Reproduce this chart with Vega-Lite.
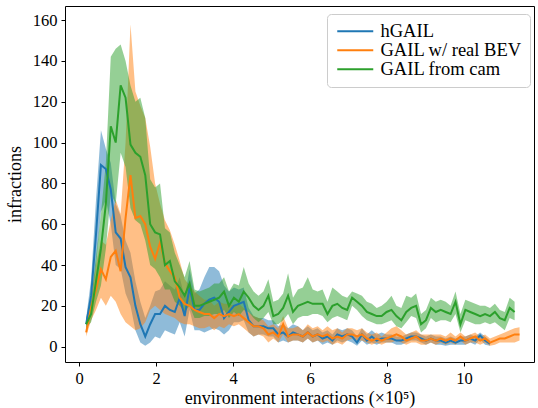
{
"$schema": "https://vega.github.io/schema/vega-lite/v6.json",
"width": 469, "height": 356,
"autosize": {"type": "none"},
"padding": {"left": 65, "top": 6, "right": 4, "bottom": 46},
"config": {
  "font": "Liberation Serif",
  "view": {"stroke": "black", "strokeWidth": 1},
  "axis": {"grid": false, "domain": false, "tickColor": "black", "tickSize": 4, "tickWidth": 1, "labelColor": "black", "labelFontSize": 16.5, "labelFont": "Liberation Serif", "titleFont": "Liberation Serif", "titleFontSize": 18, "titleFontWeight": "normal", "titleColor": "black"}
},
"data": {"values": [
{"s":"hGAIL","x":0.18,"m":11,"lo":8,"hi":14},
{"s":"hGAIL","x":0.308,"m":25,"lo":18,"hi":33},
{"s":"hGAIL","x":0.436,"m":55,"lo":40,"hi":72},
{"s":"hGAIL","x":0.564,"m":89,"lo":66,"hi":106},
{"s":"hGAIL","x":0.692,"m":87,"lo":72,"hi":97},
{"s":"hGAIL","x":0.82,"m":77,"lo":60,"hi":90},
{"s":"hGAIL","x":0.948,"m":56,"lo":40,"hi":70},
{"s":"hGAIL","x":1.076,"m":53,"lo":38,"hi":64},
{"s":"hGAIL","x":1.204,"m":39,"lo":26,"hi":52},
{"s":"hGAIL","x":1.332,"m":34,"lo":20,"hi":46},
{"s":"hGAIL","x":1.46,"m":20,"lo":8,"hi":32},
{"s":"hGAIL","x":1.588,"m":11,"lo":2,"hi":22},
{"s":"hGAIL","x":1.716,"m":5,"lo":0.5,"hi":14},
{"s":"hGAIL","x":1.844,"m":11,"lo":2,"hi":20},
{"s":"hGAIL","x":1.972,"m":16,"lo":5,"hi":27},
{"s":"hGAIL","x":2.1,"m":16,"lo":4,"hi":28},
{"s":"hGAIL","x":2.228,"m":20,"lo":8,"hi":32},
{"s":"hGAIL","x":2.356,"m":18,"lo":7,"hi":30},
{"s":"hGAIL","x":2.484,"m":17,"lo":6,"hi":28},
{"s":"hGAIL","x":2.612,"m":24,"lo":12,"hi":34},
{"s":"hGAIL","x":2.74,"m":15,"lo":5,"hi":24},
{"s":"hGAIL","x":2.868,"m":29,"lo":18,"hi":38},
{"s":"hGAIL","x":2.996,"m":18,"lo":8,"hi":26},
{"s":"hGAIL","x":3.124,"m":18,"lo":8,"hi":28},
{"s":"hGAIL","x":3.252,"m":21,"lo":7,"hi":34},
{"s":"hGAIL","x":3.38,"m":23,"lo":8,"hi":39},
{"s":"hGAIL","x":3.508,"m":24,"lo":9,"hi":39},
{"s":"hGAIL","x":3.636,"m":22,"lo":8,"hi":37},
{"s":"hGAIL","x":3.764,"m":14,"lo":6,"hi":30},
{"s":"hGAIL","x":3.892,"m":17,"lo":8,"hi":27},
{"s":"hGAIL","x":4.02,"m":20,"lo":12,"hi":29},
{"s":"hGAIL","x":4.148,"m":21,"lo":12,"hi":28},
{"s":"hGAIL","x":4.276,"m":22,"lo":13,"hi":29},
{"s":"hGAIL","x":4.404,"m":13,"lo":7,"hi":19},
{"s":"hGAIL","x":4.532,"m":10,"lo":5,"hi":15},
{"s":"hGAIL","x":4.66,"m":10,"lo":6,"hi":14},
{"s":"hGAIL","x":4.788,"m":10,"lo":6,"hi":14},
{"s":"hGAIL","x":4.916,"m":9,"lo":5,"hi":13},
{"s":"hGAIL","x":5.044,"m":9,"lo":5,"hi":13},
{"s":"hGAIL","x":5.172,"m":6,"lo":2,"hi":10},
{"s":"hGAIL","x":5.3,"m":7,"lo":3,"hi":11},
{"s":"hGAIL","x":5.428,"m":5,"lo":2,"hi":9},
{"s":"hGAIL","x":5.556,"m":7,"lo":3,"hi":11},
{"s":"hGAIL","x":5.684,"m":6,"lo":3,"hi":10},
{"s":"hGAIL","x":5.812,"m":5,"lo":2,"hi":8},
{"s":"hGAIL","x":5.94,"m":7,"lo":4,"hi":10},
{"s":"hGAIL","x":6.068,"m":5,"lo":2,"hi":8},
{"s":"hGAIL","x":6.196,"m":6,"lo":3,"hi":9},
{"s":"hGAIL","x":6.324,"m":4,"lo":1,"hi":7},
{"s":"hGAIL","x":6.452,"m":5,"lo":2,"hi":8},
{"s":"hGAIL","x":6.58,"m":3,"lo":1,"hi":6},
{"s":"hGAIL","x":6.708,"m":6,"lo":3,"hi":9},
{"s":"hGAIL","x":6.836,"m":5,"lo":2,"hi":8},
{"s":"hGAIL","x":6.964,"m":6,"lo":3,"hi":9},
{"s":"hGAIL","x":7.092,"m":5,"lo":2,"hi":8},
{"s":"hGAIL","x":7.22,"m":2,"lo":0.5,"hi":5},
{"s":"hGAIL","x":7.348,"m":6,"lo":3,"hi":9},
{"s":"hGAIL","x":7.476,"m":3,"lo":1,"hi":6},
{"s":"hGAIL","x":7.604,"m":5,"lo":2,"hi":8},
{"s":"hGAIL","x":7.732,"m":3,"lo":1,"hi":6},
{"s":"hGAIL","x":7.86,"m":4,"lo":2,"hi":7},
{"s":"hGAIL","x":7.988,"m":4,"lo":2,"hi":6},
{"s":"hGAIL","x":8.116,"m":4,"lo":2,"hi":6},
{"s":"hGAIL","x":8.244,"m":3,"lo":1,"hi":5},
{"s":"hGAIL","x":8.372,"m":3,"lo":1,"hi":5},
{"s":"hGAIL","x":8.5,"m":4,"lo":2,"hi":6},
{"s":"hGAIL","x":8.628,"m":5,"lo":3,"hi":7},
{"s":"hGAIL","x":8.756,"m":5,"lo":3,"hi":7},
{"s":"hGAIL","x":8.884,"m":4,"lo":2,"hi":6},
{"s":"hGAIL","x":9.012,"m":3,"lo":1,"hi":5},
{"s":"hGAIL","x":9.14,"m":4,"lo":2,"hi":6},
{"s":"hGAIL","x":9.268,"m":3,"lo":1,"hi":5},
{"s":"hGAIL","x":9.396,"m":3,"lo":1,"hi":5},
{"s":"hGAIL","x":9.524,"m":2,"lo":0.5,"hi":4},
{"s":"hGAIL","x":9.652,"m":3,"lo":1,"hi":5},
{"s":"hGAIL","x":9.78,"m":2,"lo":1,"hi":4},
{"s":"hGAIL","x":9.908,"m":3,"lo":1,"hi":5},
{"s":"hGAIL","x":10.036,"m":3,"lo":1,"hi":5},
{"s":"hGAIL","x":10.164,"m":4,"lo":2,"hi":6},
{"s":"hGAIL","x":10.292,"m":3,"lo":1,"hi":5},
{"s":"hGAIL","x":10.42,"m":5.5,"lo":3.5,"hi":7},
{"s":"hGAIL","x":10.548,"m":3,"lo":1,"hi":5},
{"s":"hGAIL","x":10.676,"m":1.5,"lo":0.5,"hi":3},
{"s":"GAIL w/ real BEV","x":0.18,"m":7,"lo":5,"hi":9},
{"s":"GAIL w/ real BEV","x":0.308,"m":19,"lo":13,"hi":25},
{"s":"GAIL w/ real BEV","x":0.436,"m":28,"lo":18,"hi":40},
{"s":"GAIL w/ real BEV","x":0.564,"m":38,"lo":24,"hi":52},
{"s":"GAIL w/ real BEV","x":0.692,"m":33,"lo":20,"hi":50},
{"s":"GAIL w/ real BEV","x":0.82,"m":44,"lo":25,"hi":62},
{"s":"GAIL w/ real BEV","x":0.948,"m":47,"lo":22,"hi":72},
{"s":"GAIL w/ real BEV","x":1.076,"m":37,"lo":16,"hi":65},
{"s":"GAIL w/ real BEV","x":1.204,"m":63,"lo":12,"hi":100},
{"s":"GAIL w/ real BEV","x":1.332,"m":84,"lo":10,"hi":158},
{"s":"GAIL w/ real BEV","x":1.46,"m":63,"lo":8,"hi":125},
{"s":"GAIL w/ real BEV","x":1.588,"m":64,"lo":9,"hi":118},
{"s":"GAIL w/ real BEV","x":1.716,"m":60,"lo":12,"hi":112},
{"s":"GAIL w/ real BEV","x":1.844,"m":49,"lo":18,"hi":98},
{"s":"GAIL w/ real BEV","x":1.972,"m":43,"lo":20,"hi":80},
{"s":"GAIL w/ real BEV","x":2.1,"m":51,"lo":18,"hi":70},
{"s":"GAIL w/ real BEV","x":2.228,"m":41,"lo":16,"hi":62},
{"s":"GAIL w/ real BEV","x":2.356,"m":37,"lo":15,"hi":57},
{"s":"GAIL w/ real BEV","x":2.484,"m":34,"lo":14,"hi":50},
{"s":"GAIL w/ real BEV","x":2.612,"m":24,"lo":12,"hi":42},
{"s":"GAIL w/ real BEV","x":2.74,"m":21,"lo":11,"hi":33},
{"s":"GAIL w/ real BEV","x":2.868,"m":20,"lo":11,"hi":30},
{"s":"GAIL w/ real BEV","x":2.996,"m":18,"lo":10,"hi":27},
{"s":"GAIL w/ real BEV","x":3.124,"m":17,"lo":9,"hi":25},
{"s":"GAIL w/ real BEV","x":3.252,"m":16,"lo":9,"hi":23},
{"s":"GAIL w/ real BEV","x":3.38,"m":16,"lo":10,"hi":23},
{"s":"GAIL w/ real BEV","x":3.508,"m":14,"lo":8,"hi":20},
{"s":"GAIL w/ real BEV","x":3.636,"m":16,"lo":10,"hi":22},
{"s":"GAIL w/ real BEV","x":3.764,"m":15,"lo":9,"hi":21},
{"s":"GAIL w/ real BEV","x":3.892,"m":16,"lo":11,"hi":21},
{"s":"GAIL w/ real BEV","x":4.02,"m":15,"lo":10,"hi":20},
{"s":"GAIL w/ real BEV","x":4.148,"m":16,"lo":11,"hi":21},
{"s":"GAIL w/ real BEV","x":4.276,"m":14,"lo":9,"hi":19},
{"s":"GAIL w/ real BEV","x":4.404,"m":12,"lo":7,"hi":17},
{"s":"GAIL w/ real BEV","x":4.532,"m":10,"lo":5,"hi":15},
{"s":"GAIL w/ real BEV","x":4.66,"m":10,"lo":6,"hi":14},
{"s":"GAIL w/ real BEV","x":4.788,"m":9,"lo":5,"hi":13},
{"s":"GAIL w/ real BEV","x":4.916,"m":6,"lo":2,"hi":10},
{"s":"GAIL w/ real BEV","x":5.044,"m":7,"lo":4,"hi":11},
{"s":"GAIL w/ real BEV","x":5.172,"m":5,"lo":2,"hi":9},
{"s":"GAIL w/ real BEV","x":5.3,"m":11,"lo":6,"hi":15},
{"s":"GAIL w/ real BEV","x":5.428,"m":5,"lo":2,"hi":9},
{"s":"GAIL w/ real BEV","x":5.556,"m":6,"lo":3,"hi":9},
{"s":"GAIL w/ real BEV","x":5.684,"m":6,"lo":3,"hi":10},
{"s":"GAIL w/ real BEV","x":5.812,"m":5,"lo":2,"hi":8},
{"s":"GAIL w/ real BEV","x":5.94,"m":7,"lo":4,"hi":11},
{"s":"GAIL w/ real BEV","x":6.068,"m":5,"lo":2,"hi":9},
{"s":"GAIL w/ real BEV","x":6.196,"m":6,"lo":3,"hi":10},
{"s":"GAIL w/ real BEV","x":6.324,"m":5,"lo":2,"hi":8},
{"s":"GAIL w/ real BEV","x":6.452,"m":6,"lo":3,"hi":10},
{"s":"GAIL w/ real BEV","x":6.58,"m":4,"lo":1,"hi":8},
{"s":"GAIL w/ real BEV","x":6.708,"m":5,"lo":2,"hi":9},
{"s":"GAIL w/ real BEV","x":6.836,"m":4,"lo":1,"hi":7},
{"s":"GAIL w/ real BEV","x":6.964,"m":6,"lo":3,"hi":9},
{"s":"GAIL w/ real BEV","x":7.092,"m":6,"lo":4,"hi":9},
{"s":"GAIL w/ real BEV","x":7.22,"m":5,"lo":3,"hi":8},
{"s":"GAIL w/ real BEV","x":7.348,"m":6,"lo":3,"hi":9},
{"s":"GAIL w/ real BEV","x":7.476,"m":4,"lo":2,"hi":7},
{"s":"GAIL w/ real BEV","x":7.604,"m":3,"lo":1,"hi":6},
{"s":"GAIL w/ real BEV","x":7.732,"m":4,"lo":2,"hi":7},
{"s":"GAIL w/ real BEV","x":7.86,"m":3,"lo":1,"hi":5},
{"s":"GAIL w/ real BEV","x":7.988,"m":4,"lo":2,"hi":7},
{"s":"GAIL w/ real BEV","x":8.116,"m":5,"lo":2,"hi":9},
{"s":"GAIL w/ real BEV","x":8.244,"m":6,"lo":3,"hi":10},
{"s":"GAIL w/ real BEV","x":8.372,"m":5,"lo":2,"hi":8},
{"s":"GAIL w/ real BEV","x":8.5,"m":3,"lo":1,"hi":6},
{"s":"GAIL w/ real BEV","x":8.628,"m":4,"lo":2,"hi":7},
{"s":"GAIL w/ real BEV","x":8.756,"m":5,"lo":2,"hi":8},
{"s":"GAIL w/ real BEV","x":8.884,"m":3,"lo":1,"hi":6},
{"s":"GAIL w/ real BEV","x":9.012,"m":3,"lo":1,"hi":6},
{"s":"GAIL w/ real BEV","x":9.14,"m":4,"lo":2,"hi":6},
{"s":"GAIL w/ real BEV","x":9.268,"m":3,"lo":1,"hi":6},
{"s":"GAIL w/ real BEV","x":9.396,"m":4,"lo":2,"hi":6},
{"s":"GAIL w/ real BEV","x":9.524,"m":3,"lo":1,"hi":5},
{"s":"GAIL w/ real BEV","x":9.652,"m":4,"lo":2,"hi":7},
{"s":"GAIL w/ real BEV","x":9.78,"m":3,"lo":1,"hi":5},
{"s":"GAIL w/ real BEV","x":9.908,"m":5,"lo":3,"hi":7},
{"s":"GAIL w/ real BEV","x":10.036,"m":3,"lo":1,"hi":5},
{"s":"GAIL w/ real BEV","x":10.164,"m":4,"lo":2,"hi":6},
{"s":"GAIL w/ real BEV","x":10.292,"m":5,"lo":2,"hi":7},
{"s":"GAIL w/ real BEV","x":10.42,"m":3,"lo":1,"hi":5},
{"s":"GAIL w/ real BEV","x":10.548,"m":4,"lo":2,"hi":6},
{"s":"GAIL w/ real BEV","x":10.676,"m":2,"lo":0.5,"hi":4},
{"s":"GAIL w/ real BEV","x":10.804,"m":3,"lo":1,"hi":5},
{"s":"GAIL w/ real BEV","x":10.932,"m":4,"lo":2,"hi":6},
{"s":"GAIL w/ real BEV","x":11.06,"m":4,"lo":2,"hi":7},
{"s":"GAIL w/ real BEV","x":11.188,"m":5,"lo":2,"hi":8},
{"s":"GAIL w/ real BEV","x":11.316,"m":6,"lo":2,"hi":9},
{"s":"GAIL w/ real BEV","x":11.444,"m":6,"lo":3,"hi":9.5},
{"s":"GAIL from cam","x":0.18,"m":11,"lo":9,"hi":14},
{"s":"GAIL from cam","x":0.308,"m":16,"lo":12,"hi":22},
{"s":"GAIL from cam","x":0.436,"m":32,"lo":22,"hi":44},
{"s":"GAIL from cam","x":0.564,"m":48,"lo":30,"hi":65},
{"s":"GAIL from cam","x":0.692,"m":70,"lo":48,"hi":90},
{"s":"GAIL from cam","x":0.82,"m":108,"lo":75,"hi":142},
{"s":"GAIL from cam","x":0.948,"m":100,"lo":70,"hi":146},
{"s":"GAIL from cam","x":1.076,"m":128,"lo":95,"hi":148},
{"s":"GAIL from cam","x":1.204,"m":122,"lo":88,"hi":140},
{"s":"GAIL from cam","x":1.332,"m":99,"lo":68,"hi":128},
{"s":"GAIL from cam","x":1.46,"m":95,"lo":62,"hi":120},
{"s":"GAIL from cam","x":1.588,"m":93,"lo":60,"hi":122},
{"s":"GAIL from cam","x":1.716,"m":84,"lo":52,"hi":112},
{"s":"GAIL from cam","x":1.844,"m":60,"lo":40,"hi":82},
{"s":"GAIL from cam","x":1.972,"m":56,"lo":38,"hi":78},
{"s":"GAIL from cam","x":2.1,"m":55,"lo":34,"hi":80},
{"s":"GAIL from cam","x":2.228,"m":40,"lo":28,"hi":58},
{"s":"GAIL from cam","x":2.356,"m":42,"lo":28,"hi":56},
{"s":"GAIL from cam","x":2.484,"m":32,"lo":22,"hi":46},
{"s":"GAIL from cam","x":2.612,"m":29,"lo":20,"hi":40},
{"s":"GAIL from cam","x":2.74,"m":25,"lo":17,"hi":34},
{"s":"GAIL from cam","x":2.868,"m":31,"lo":20,"hi":42},
{"s":"GAIL from cam","x":2.996,"m":20,"lo":14,"hi":28},
{"s":"GAIL from cam","x":3.124,"m":20,"lo":14,"hi":27},
{"s":"GAIL from cam","x":3.252,"m":21,"lo":15,"hi":28},
{"s":"GAIL from cam","x":3.38,"m":22,"lo":15,"hi":29},
{"s":"GAIL from cam","x":3.508,"m":23,"lo":16,"hi":31},
{"s":"GAIL from cam","x":3.636,"m":24,"lo":16,"hi":31},
{"s":"GAIL from cam","x":3.764,"m":27,"lo":18,"hi":34},
{"s":"GAIL from cam","x":3.892,"m":20,"lo":14,"hi":27},
{"s":"GAIL from cam","x":4.02,"m":24,"lo":17,"hi":31},
{"s":"GAIL from cam","x":4.148,"m":22,"lo":15,"hi":30},
{"s":"GAIL from cam","x":4.276,"m":27,"lo":18,"hi":39},
{"s":"GAIL from cam","x":4.404,"m":24,"lo":17,"hi":31},
{"s":"GAIL from cam","x":4.532,"m":20,"lo":14,"hi":27},
{"s":"GAIL from cam","x":4.66,"m":18,"lo":12,"hi":25},
{"s":"GAIL from cam","x":4.788,"m":20,"lo":14,"hi":27},
{"s":"GAIL from cam","x":4.916,"m":25,"lo":17,"hi":33},
{"s":"GAIL from cam","x":5.044,"m":15,"lo":11,"hi":22},
{"s":"GAIL from cam","x":5.172,"m":16,"lo":11,"hi":23},
{"s":"GAIL from cam","x":5.3,"m":19,"lo":13,"hi":26},
{"s":"GAIL from cam","x":5.428,"m":25,"lo":16,"hi":36},
{"s":"GAIL from cam","x":5.556,"m":17,"lo":11,"hi":24},
{"s":"GAIL from cam","x":5.684,"m":20,"lo":14,"hi":28},
{"s":"GAIL from cam","x":5.812,"m":21,"lo":15,"hi":29},
{"s":"GAIL from cam","x":5.94,"m":22,"lo":15,"hi":34},
{"s":"GAIL from cam","x":6.068,"m":21,"lo":16,"hi":28},
{"s":"GAIL from cam","x":6.196,"m":21,"lo":16,"hi":27},
{"s":"GAIL from cam","x":6.324,"m":21,"lo":15,"hi":28},
{"s":"GAIL from cam","x":6.452,"m":16,"lo":12,"hi":22},
{"s":"GAIL from cam","x":6.58,"m":20,"lo":14,"hi":29},
{"s":"GAIL from cam","x":6.708,"m":21,"lo":15,"hi":27},
{"s":"GAIL from cam","x":6.836,"m":19,"lo":14,"hi":25},
{"s":"GAIL from cam","x":6.964,"m":18,"lo":13,"hi":24},
{"s":"GAIL from cam","x":7.092,"m":24,"lo":20,"hi":27},
{"s":"GAIL from cam","x":7.22,"m":22,"lo":18,"hi":26},
{"s":"GAIL from cam","x":7.348,"m":20,"lo":15,"hi":25},
{"s":"GAIL from cam","x":7.476,"m":17,"lo":13,"hi":22},
{"s":"GAIL from cam","x":7.604,"m":16,"lo":12,"hi":21},
{"s":"GAIL from cam","x":7.732,"m":15,"lo":11,"hi":19},
{"s":"GAIL from cam","x":7.86,"m":15,"lo":11,"hi":20},
{"s":"GAIL from cam","x":7.988,"m":17,"lo":12,"hi":22},
{"s":"GAIL from cam","x":8.116,"m":18,"lo":13,"hi":25},
{"s":"GAIL from cam","x":8.244,"m":15,"lo":10,"hi":20},
{"s":"GAIL from cam","x":8.372,"m":13,"lo":9,"hi":19},
{"s":"GAIL from cam","x":8.5,"m":17,"lo":12,"hi":25},
{"s":"GAIL from cam","x":8.628,"m":19,"lo":15,"hi":24},
{"s":"GAIL from cam","x":8.756,"m":20,"lo":14,"hi":26},
{"s":"GAIL from cam","x":8.884,"m":11,"lo":7,"hi":16},
{"s":"GAIL from cam","x":9.012,"m":13,"lo":9,"hi":18},
{"s":"GAIL from cam","x":9.14,"m":19,"lo":14,"hi":24},
{"s":"GAIL from cam","x":9.268,"m":17,"lo":12,"hi":22},
{"s":"GAIL from cam","x":9.396,"m":18,"lo":13,"hi":23},
{"s":"GAIL from cam","x":9.524,"m":17,"lo":13,"hi":22},
{"s":"GAIL from cam","x":9.652,"m":16,"lo":12,"hi":20},
{"s":"GAIL from cam","x":9.78,"m":22,"lo":16,"hi":27},
{"s":"GAIL from cam","x":9.908,"m":11,"lo":7,"hi":16},
{"s":"GAIL from cam","x":10.036,"m":18,"lo":13,"hi":23},
{"s":"GAIL from cam","x":10.164,"m":17,"lo":12,"hi":22},
{"s":"GAIL from cam","x":10.292,"m":16,"lo":11,"hi":21},
{"s":"GAIL from cam","x":10.42,"m":15,"lo":11,"hi":20},
{"s":"GAIL from cam","x":10.548,"m":16,"lo":12,"hi":20},
{"s":"GAIL from cam","x":10.676,"m":15,"lo":11,"hi":19},
{"s":"GAIL from cam","x":10.804,"m":17,"lo":12,"hi":21},
{"s":"GAIL from cam","x":10.932,"m":14,"lo":10,"hi":18},
{"s":"GAIL from cam","x":11.06,"m":13,"lo":8,"hi":17},
{"s":"GAIL from cam","x":11.188,"m":19,"lo":14,"hi":24},
{"s":"GAIL from cam","x":11.316,"m":17,"lo":13,"hi":22}
]},
"encoding": {
  "x": {"field": "x", "type": "quantitative", "scale": {"domain": [-0.37, 11.82], "nice": false, "zero": false}, "axis": {"values": [0,2,4,6,8,10], "title": "environment interactions (×10⁵)", "labelPadding": 4, "titlePadding": 3}},
  "color": {"field": "s", "type": "nominal", "scale": {"domain": ["hGAIL","GAIL w/ real BEV","GAIL from cam"], "range": ["#1f77b4","#ff7f0e","#2ca02c"]},
    "legend": {"title": null, "orient": "none", "legendX": 262, "legendY": 8, "symbolType": "M-3,0H3", "symbolSize": 144, "symbolStrokeWidth": 2, "symbolOpacity": 1, "symbolOffset": 11, "labelFontSize": 18.5, "labelFont": "Liberation Serif", "labelColor": "black", "labelOffset": 16, "rowPadding": 0, "padding": 8, "strokeColor": "#cccccc", "fillColor": "white", "cornerRadius": 4}}
},
"layer": [
  {"mark": {"type": "area", "opacity": 0.5},
   "encoding": {
     "y": {"field": "lo", "type": "quantitative", "scale": {"domain": [-7.5, 166.9], "nice": false, "zero": false}, "axis": {"values": [0,20,40,60,80,100,120,140,160], "title": "infractions", "labelPadding": 4, "titlePadding": 8}},
     "y2": {"field": "hi"}
   }},
  {"mark": {"type": "line", "strokeWidth": 2},
   "encoding": {
     "y": {"field": "m", "type": "quantitative"}
   }}
]
}
